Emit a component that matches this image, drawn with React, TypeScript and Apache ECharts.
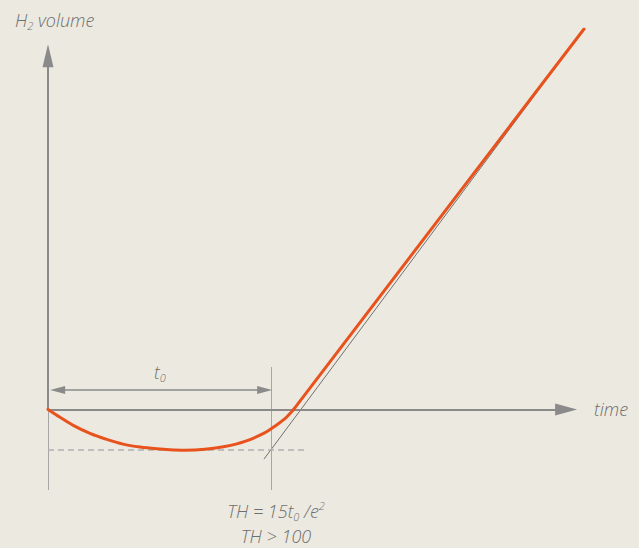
import React, { useEffect, useRef } from "react";
import * as echarts from "echarts";

// Curve (induction period), units: t0 = 10
const curveX = [0, 0.54, 1.13, 1.88, 2.63, 3.36, 4.12, 4.87, 5.46, 6.13, 7.03, 7.92, 8.82, 9.72, 10.16, 10.61, 11.0];
const curveY = [0, -0.35, -0.71, -1.07, -1.34, -1.55, -1.68, -1.76, -1.8, -1.82, -1.78, -1.66, -1.43, -1.04, -0.75, -0.41, 0];
// Linear growth part
const linearX = [11.0, 24];
const linearY = [0, 17];
// Tangent (asymptote) line
const tangentX = [9.67, 24];
const tangentY = [-2.22, 17];
const t0Value = 10;
const minLevel = -1.81;
const xMax = 24;
const yMin = -3.6;
const yMax = 17;

const GRAY = "#8a8a8a";
const LIGHT = "#a6a6a6";
const ORANGE = "#E8521C";
const TEXT = "#6f6f6f";
const FONT = "'Open Sans', sans-serif";

export default function App() {
  const ref = useRef<HTMLDivElement>(null);
  useEffect(() => {
    if (!ref.current) return;
    const chart = echarts.init(ref.current, null, { renderer: "svg" });
    const pair = (a: number[], b: number[]) => a.map((v, i) => [v, b[i]]);
    const seg = (
      p1: number[],
      p2: number[],
      color: string,
      width: number,
      s1: string = "none",
      s2: string = "none",
      size: number[] = [0, 0],
      type: any = "solid"
    ) => [
      { coord: p1, symbol: s1, symbolSize: size },
      {
        coord: p2,
        symbol: s2,
        symbolSize: size,
        lineStyle: { color, width, type },
      },
    ];
    const m = { fontSize: 18, fontStyle: "italic", fontWeight: 300, fontFamily: FONT, fill: TEXT, lineHeight: 22 };
    const s = { fontSize: 11, fontStyle: "italic", fontWeight: 300, fontFamily: FONT, fill: TEXT, lineHeight: 9, verticalAlign: "bottom" };
    const p = { fontSize: 11, fontStyle: "italic", fontWeight: 300, fontFamily: FONT, fill: TEXT, lineHeight: 13, verticalAlign: "top" };
    const option: any = {
      animation: false,
      backgroundColor: "#ECE9E1",
      grid: { left: 48, right: 55, top: 29, bottom: 58 },
      xAxis: { type: "value", min: 0, max: xMax, show: false },
      yAxis: { type: "value", min: yMin, max: yMax, show: false },
      series: [
        {
          type: "line",
          data: pair(tangentX, tangentY),
          symbol: "none",
          lineStyle: { color: "#707070", width: 1 },
          silent: true,
          z: 2,
          markLine: {
            silent: true,
            animation: false,
            label: { show: false },
            emphasis: { disabled: true },
            symbol: ["none", "none"],
            data: [
              seg([0, 0], [0, yMin], LIGHT, 1),
              seg([t0Value, 1.9], [t0Value, yMin], LIGHT, 1),
              seg([0, minLevel], [11.6, minLevel], "#b0b0b0", 1.5, "none", "none", [0, 0], [6, 4]),
              seg([0, 0], [0, 15.8], GRAY, 2, "none", "triangle", [11, 23]),
              seg([0, 0], [23.2, 0], GRAY, 2, "none", "triangle", [12, 22]),
              seg([0.43, 0.87], [9.7, 0.87], GRAY, 1.5, "triangle", "triangle", [8, 15]),
            ],
          },
        },
        {
          type: "line",
          data: pair(curveX, curveY),
          smooth: 0.25,
          symbol: "none",
          lineStyle: { color: ORANGE, width: 3, join: "round", cap: "round" },
          silent: true,
          z: 5,
        },
        {
          type: "line",
          data: pair(linearX, linearY),
          symbol: "none",
          lineStyle: { color: ORANGE, width: 3, cap: "round" },
          silent: true,
          z: 5,
        },
      ],
      graphic: [
        {
          type: "text",
          x: 15,
          y: 9,
          style: { text: "{m|H}{s|2}{m| volume}", fill: TEXT, rich: { m, s } },
        },
        {
          type: "text",
          x: 160,
          y: 361,
          style: { text: "{m|t}{s|0}", align: "center", fill: TEXT, rich: { m, s } },
        },
        {
          type: "text",
          x: 594,
          y: 409,
          style: { text: "time", fill: TEXT, font: `italic 300 18px ${FONT}`, verticalAlign: "middle" },
        },
        {
          type: "text",
          x: 276,
          y: 500,
          style: { text: "{m|TH = 15t}{s|0}{m| /e}{p|2}", align: "center", fill: TEXT, rich: { m, s, p } },
        },
        {
          type: "text",
          x: 276,
          y: 536,
          style: { text: "TH > 100", align: "center", verticalAlign: "middle", fill: TEXT, font: `italic 300 18px ${FONT}` },
        },
      ],
    };
    chart.setOption(option);
    return () => chart.dispose();
  }, []);
  return (
    <div ref={ref} style={{ position: "absolute", left: 0, top: 0, width: 639, height: 548 }} />
  );
}
